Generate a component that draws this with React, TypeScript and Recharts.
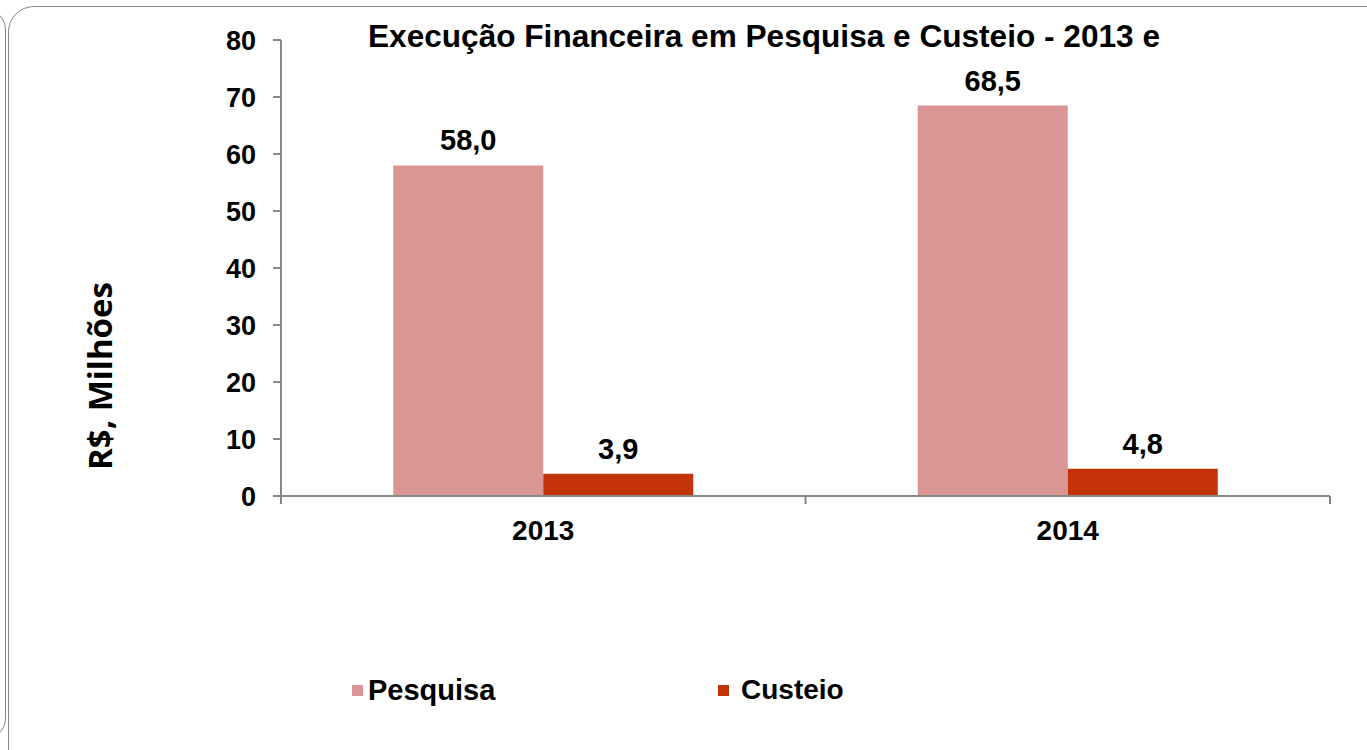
import React from "react";
import {
  BarChart,
  Bar,
  XAxis,
  YAxis,
  LabelList,
  ReferenceLine,
} from "recharts";

const years = ["2013", "2014"];
const pesquisa = [58.0, 68.5];
const custeio = [3.9, 4.8];
const yTicks = [0, 10, 20, 30, 40, 50, 60, 70, 80];
const catEdges = [-0.5, 0.5, 1.5];

const PESQ_COLOR = "#D99694";
const CUST_COLOR = "#C3340A";
const AXIS = "#888";
const FONT = "Arial, 'Liberation Sans', sans-serif";

const data = years.map((y, i) => ({
  year: y,
  pesquisa: pesquisa[i],
  custeio: custeio[i],
  pos: i,
}));

const fmt = (v: any) => Number(v).toFixed(1).replace(".", ",");

const labelStyle = { fontSize: 29, fontWeight: 700, fill: "#000", fontFamily: FONT };

export default function App() {
  return (
    <div
      style={{
        position: "absolute",
        left: 0,
        top: 0,
        width: 1367,
        height: 750,
        overflow: "hidden",
        background: "#fff",
        fontFamily: FONT,
      }}
    >
      {/* slide frames */}
      <div
        style={{
          position: "absolute",
          left: -1000,
          top: 8,
          width: 1004,
          height: 730,
          border: "1.5px solid #888",
          borderRadius: 22,
        }}
      />
      <div
        style={{
          position: "absolute",
          left: 8,
          top: 6,
          width: 1400,
          height: 800,
          border: "1.5px solid #888",
          borderRadius: 26,
        }}
      />
      <div
        style={{
          position: "absolute",
          left: 368,
          top: 18,
          fontSize: 31.6,
          fontWeight: 700,
          whiteSpace: "nowrap",
          color: "#000",
        }}
      >
        Execução Financeira em Pesquisa e Custeio - 2013 e
      </div>
      <div
        style={{
          position: "absolute",
          left: 99,
          top: 376,
          transform: "translate(-50%, -50%) rotate(-90deg)",
          fontSize: 33,
          fontWeight: 700,
          fontFamily: "'Open Sans', sans-serif",
          whiteSpace: "nowrap",
          color: "#000",
        }}
      >
        R$, Milhões
      </div>
      <div style={{ position: "absolute", left: 0, top: 0 }}>
        <BarChart
          width={1367}
          height={750}
          data={data}
          margin={{ top: 40, right: 37, bottom: 194, left: 0 }}
          barCategoryGap="21.4%"
          barGap={0}
        >
          <XAxis
            dataKey="year"
            xAxisId="cat"
            tickLine={false}
            tickSize={0}
            axisLine={{ stroke: AXIS, strokeWidth: 2 }}
            tick={{ fontSize: 28, fontWeight: 700, fill: "#000", fontFamily: FONT }}
            tickMargin={24}
            height={60}
          />
          <XAxis
            xAxisId="pos"
            dataKey="pos"
            type="number"
            domain={[-0.5, 1.5]}
            hide
          />
          <YAxis
            domain={[0, 80]}
            ticks={yTicks}
            width={281}
            tick={{ fontSize: 27, fontWeight: 700, fill: "#000", fontFamily: FONT }}
            tickSize={8}
            tickMargin={17}
            tickLine={{ stroke: AXIS, strokeWidth: 2 }}
            axisLine={{ stroke: AXIS, strokeWidth: 2 }}
          />
          {catEdges.map((e) => (
            <ReferenceLine
              key={e}
              xAxisId="pos"
              segment={[
                { x: e, y: 0 },
                { x: e, y: -1.4 },
              ]}
              stroke={AXIS}
              strokeWidth={2}
              ifOverflow="visible"
            />
          ))}
          <Bar dataKey="pesquisa" xAxisId="cat" fill={PESQ_COLOR} isAnimationActive={false}>
            <LabelList
              dataKey="pesquisa"
              position="top"
              offset={15}
              formatter={fmt}
              style={labelStyle}
            />
          </Bar>
          <Bar dataKey="custeio" xAxisId="cat" fill={CUST_COLOR} isAnimationActive={false}>
            <LabelList
              dataKey="custeio"
              position="top"
              offset={15}
              formatter={fmt}
              style={labelStyle}
            />
          </Bar>
        </BarChart>
      </div>
      {/* legend */}
      <div
        style={{
          position: "absolute",
          left: 352,
          top: 674,
          display: "flex",
          alignItems: "center",
          fontSize: 29,
          fontWeight: 700,
          color: "#000",
        }}
      >
        <span style={{ width: 11, height: 11, background: PESQ_COLOR, marginRight: 5 }} />
        Pesquisa
      </div>
      <div
        style={{
          position: "absolute",
          left: 718,
          top: 674,
          display: "flex",
          alignItems: "center",
          fontSize: 28,
          fontWeight: 700,
          color: "#000",
        }}
      >
        <span style={{ width: 11, height: 11, background: CUST_COLOR, marginRight: 12 }} />
        Custeio
      </div>
    </div>
  );
}
